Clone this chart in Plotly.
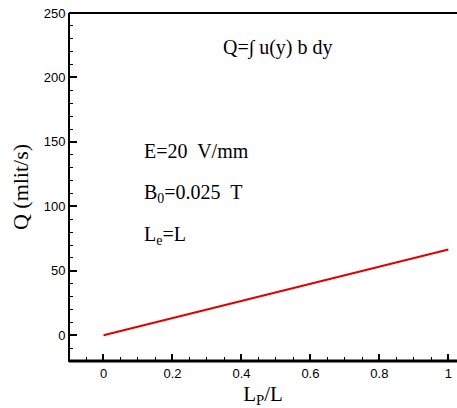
import plotly.graph_objects as go

# Flow rate versus relative length of the pumping section
lp_over_l = [0.0, 0.2, 0.4, 0.6, 0.8, 1.0]
flow_q = [0.0, 13.3, 26.6, 39.9, 53.2, 66.5]

serif = "Liberation Serif, Times New Roman, serif"
sans = "Liberation Sans, Arial, sans-serif"

fig = go.Figure()
fig.add_trace(go.Scatter(x=lp_over_l, y=flow_q, mode="lines",
                         line=dict(color="#e00000", width=2), showlegend=False))

fig.update_layout(width=457, height=408, margin=dict(l=69, r=0, t=13, b=47),
                  plot_bgcolor="white")

fig.update_xaxes(range=[-0.1, 1.025], ticks="inside", ticklen=7, tickwidth=2,
                 tickcolor="#000000", showline=True, linecolor="black",
                 tickfont=dict(family=sans, size=13, color="black"),
                 title=dict(text="L<sub>P</sub>/L",
                            font=dict(family=serif, size=21, color="black"), standoff=6),
                 minor=dict(ticks="inside", ticklen=4, tickcolor="#000000", tickwidth=1))
fig.update_yaxes(range=[-20, 250], ticks="inside", ticklen=8, tickwidth=2,
                 tickcolor="#000000", showline=True, linecolor="black",
                 tickfont=dict(family=sans, size=13, color="black"),
                 title=dict(text="Q (mlit/s)",
                            font=dict(family=serif, size=22, color="black"), standoff=8),
                 minor=dict(ticks="inside", ticklen=4, tickcolor="#000000", tickwidth=1))

# frame lines: top, left and bottom borders
frame = [((0, 1), (1, 1), 2), ((0, 0), (0, 1), 2), ((0, 1), (0, 0), 3)]
for (x0, x1), (y0, y1), w in frame:
    fig.add_shape(type="line", xref="paper", yref="paper", x0=x0, x1=x1, y0=y0, y1=y1,
                  line=dict(color="black", width=w))

ann_font = dict(family=serif, size=20, color="black")
annotations = [
    (0.34, 223, "Q=\u222b u(y) b dy"),
    (0.112, 143, "E=20  V/mm"),
    (0.112, 110, "B<sub>0</sub>=0.025  T"),
    (0.112, 77, "L<sub>e</sub>=L"),
]
for ax_x, ax_y, txt in annotations:
    fig.add_annotation(x=ax_x, y=ax_y, text=txt, showarrow=False,
                       xanchor="left", yanchor="middle", font=ann_font)

fig.write_html("out.html")
